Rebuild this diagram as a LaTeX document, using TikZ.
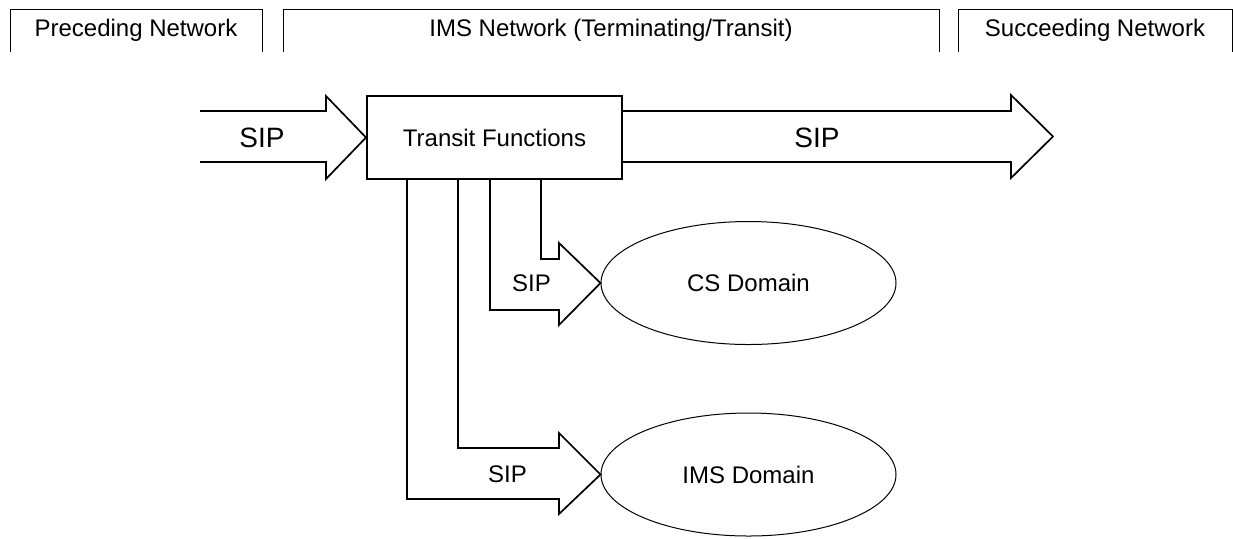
\documentclass[tikz,border=0pt]{standalone}
\usepackage{fontspec}
\setmainfont{Liberation Sans}
\usetikzlibrary{shapes.geometric, calc}

\begin{document}
\begin{tikzpicture}[x=0.5pt, y=-0.5pt,
    tab/.style={draw, line width=0.5pt},
    lbl/.style={inner sep=0pt, font=\fontsize{12}{14}\selectfont},
    big/.style={inner sep=0pt, font=\fontsize{14}{16}\selectfont},
    func/.style={draw, line width=1pt, minimum width=127.5pt, minimum height=41.5pt,
                 inner sep=0pt, font=\fontsize{12}{14}\selectfont},
    dom/.style={draw, ellipse, line width=0.5pt, minimum width=147.5pt, minimum height=61.5pt,
                inner sep=0pt, font=\fontsize{12}{14}\selectfont},
    blk/.style={draw, line width=0.85pt, line join=miter},
]
    \useasboundingbox (0,0) rectangle (1233,538);

    % network tabs along the top
    \draw[tab] (10,52) -- (10,9) -- (262,9) -- (262,52);
    \draw[tab] (283,52) -- (283,9) -- (939,9) -- (939,52);
    \draw[tab] (958,52) -- (958,9) -- (1232,9) -- (1232,52);
    \node[lbl] (prec) at (136,30) {Preceding Network};
    \node[lbl] (imsnet) at (611,30) {IMS Network (Terminating/Transit)};
    \node[lbl] (succ) at (1095,30) {Succeeding Network};

    \node[func] (tf) at (494.5,137.5) {Transit Functions};
    \node[dom] (cs) at (748.5,283) {CS Domain};
    \node[dom] (ims) at (748.5,474.5) {IMS Domain};

    % SIP block arrows
    \draw[blk] (200,111) -- (326,111) -- (326,96) -- (tf.west)
        -- (326,179) -- (326,162) -- (200,162);
    \node[big] (sipin) at (262,137.5) {SIP};

    \draw[blk] (tf.east |- 0,111) -- (1011,111) -- (1011,95) -- (1053,136.5)
        -- (1011,178) -- (1011,162) -- (tf.east |- 0,162);
    \node[big] (sipout) at (817,137.5) {SIP};

    \draw[blk] (541,179) -- (541,259) -- (559,259) -- (559,243) -- (cs.west)
        -- (559,325) -- (559,310) -- (490,310) -- (490,179);
    \node[lbl] (sipcs) at (531.5,283.5) {SIP};

    \draw[blk] (458,179) -- (458,448) -- (559,448) -- (559,433) -- (ims.west)
        -- (559,514) -- (559,499) -- (407,499) -- (407,179);
    \node[lbl] (sipims) at (507.5,474) {SIP};
\end{tikzpicture}
\end{document}
